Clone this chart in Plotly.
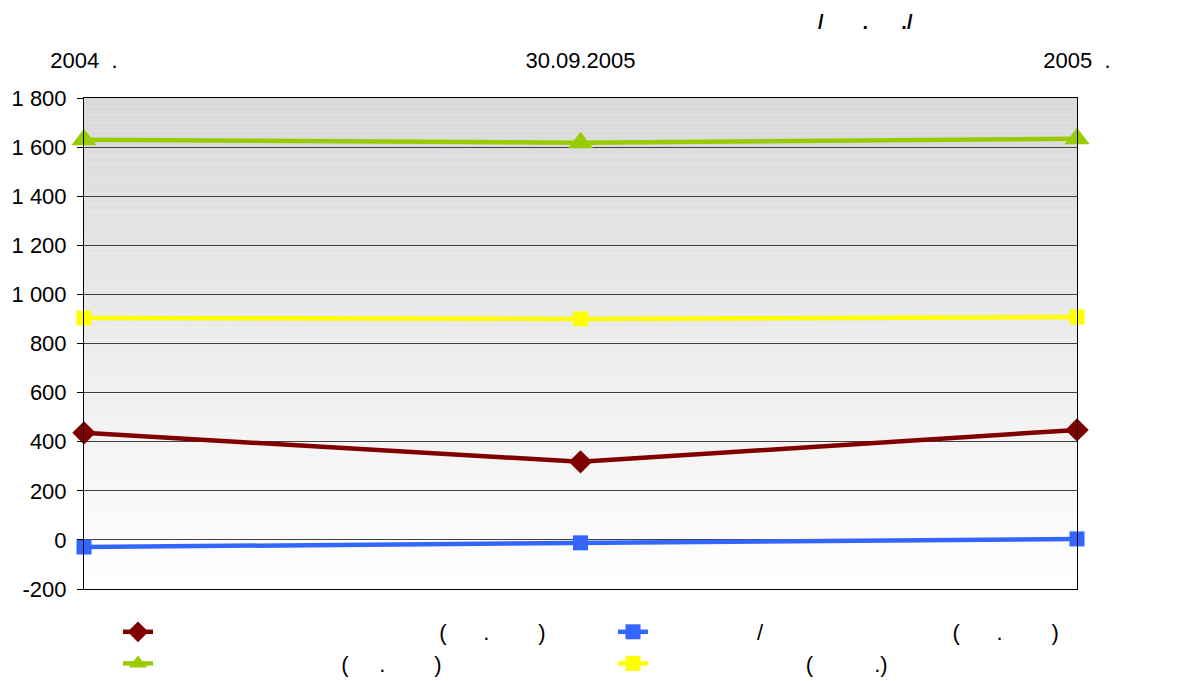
import plotly.graph_objects as go

# ---- data ----
categories = ["2004\u00a0\u00a0.", "30.09.2005", "2005\u00a0\u00a0."]
series_red = [436, 318, 448]
series_blue = [-29, -12, 4]
series_green = [1630, 1618, 1634]
series_yellow = [904, 900, 908]
y_tickvals = [-200, 0, 200, 400, 600, 800, 1000, 1200, 1400, 1600, 1800]
y_ticktext = ["-200", "0", "200", "400", "600", "800", "1 000", "1 200", "1 400", "1 600", "1 800"]

FS = 22
FONT = "Liberation Sans, Arial, sans-serif"
W = {"(": 0.333, ")": 0.333, ".": 0.278, "/": 0.278}
SP = 0.2778


def place(start, items, fs=FS):
    s, cur = "", start
    for xc, ch in items:
        w = W[ch] * fs
        left = xc - w / 2
        n = max(0, round((left - cur) / (SP * fs)))
        s += "\u00a0" * n + ch
        cur += n * SP * fs + w
    return s


SHIFT = 11
T1, T2 = 150 + SHIFT, 645 + SHIFT
name_red = place(T1, [(445, "("), (489, "."), (542, ")")])
name_blue = place(T2, [(761, "/"), (958, "("), (1000, "."), (1057, ")")])
name_green = place(T1, [(345, "("), (384, "."), (440, ")")])
name_yellow = place(T2, [(810, "("), (879, "."), (886, ")")])
title_text = place(816, [(816, "/"), (866, "."), (904, "."), (910, "/")], fs=20)

OFF = 8  # page body margin of the html page
L, R, T, B = 84 - OFF, 116 + OFF, 98 - OFF, 92 + OFF
PW, PH = 1193 - L - R, 681 - T - B
fig = go.Figure()
common = dict(mode="lines+markers", cliponaxis=False)
fig.add_trace(go.Scatter(x=categories, y=series_red, name=name_red, **common,
                         line=dict(color="#800000", width=4.5),
                         marker=dict(symbol="diamond", size=18, color="#800000")))
fig.add_trace(go.Scatter(x=categories, y=series_blue, name=name_blue, **common,
                         line=dict(color="#3366ff", width=4.5),
                         marker=dict(symbol="square", size=15, color="#3366ff")))
fig.add_trace(go.Scatter(x=categories, y=series_green, name=name_green, **common,
                         line=dict(color="#99cc00", width=4.5),
                         marker=dict(symbol="triangle-up", size=22, color="#99cc00")))
fig.add_trace(go.Scatter(x=categories, y=series_yellow, name=name_yellow, **common,
                         line=dict(color="#ffff00", width=4.5),
                         marker=dict(symbol="square", size=15, color="#ffff00")))

# gradient background
N = 60
shapes = []
for i in range(N):
    t = (i + 0.5) / N  # 0 bottom -> 1 top
    v = round(255 - (255 - 217) * t)
    shapes.append(dict(type="rect", xref="x domain", yref="y domain", x0=0, x1=1,
                       y0=i / N, y1=(i + 1) / N, fillcolor=f"rgb({v},{v},{v})",
                       line=dict(width=0), layer="below"))

fig.update_layout(
    width=1193, height=681,
    margin=dict(l=L, r=R, t=T, b=B, autoexpand=False),
    paper_bgcolor="white", plot_bgcolor="white",
    font=dict(family=FONT, size=FS, color="black"),
    shapes=shapes,
    showlegend=True,
    legend=dict(orientation="h", x=(107 + SHIFT - 84) / PW, y=-22 / PH,
                xanchor="left", yanchor="top", entrywidth=450, entrywidthmode="pixels",
                font=dict(family=FONT, size=FS), bgcolor="rgba(0,0,0,0)",
                traceorder="normal"),
    annotations=[dict(text="<b>" + title_text + "</b>", xref="paper", yref="paper",
                      x=(816 - 84) / PW, y=1 + (98 - 22) / PH,
                      xanchor="left", yanchor="middle", showarrow=False,
                      font=dict(family=FONT, size=20, color="black"))],
)
fig.update_xaxes(type="category", range=[0, 2], side="top", showgrid=False,
                 ticks="", ticklabelstandoff=20, showline=True, linecolor="black",
                 linewidth=1, mirror=True, zeroline=False, tickfont=dict(size=FS))
fig.update_yaxes(range=[-200, 1800], tickvals=y_tickvals, ticktext=y_ticktext,
                 showgrid=True, gridcolor="#404040", gridwidth=1, zeroline=False,
                 ticks="outside", ticklen=6, tickcolor="black", showline=True,
                 linecolor="black", linewidth=1, mirror=True, tickfont=dict(size=FS),
                 ticklabelstandoff=6)

fig.write_html("out.html")
